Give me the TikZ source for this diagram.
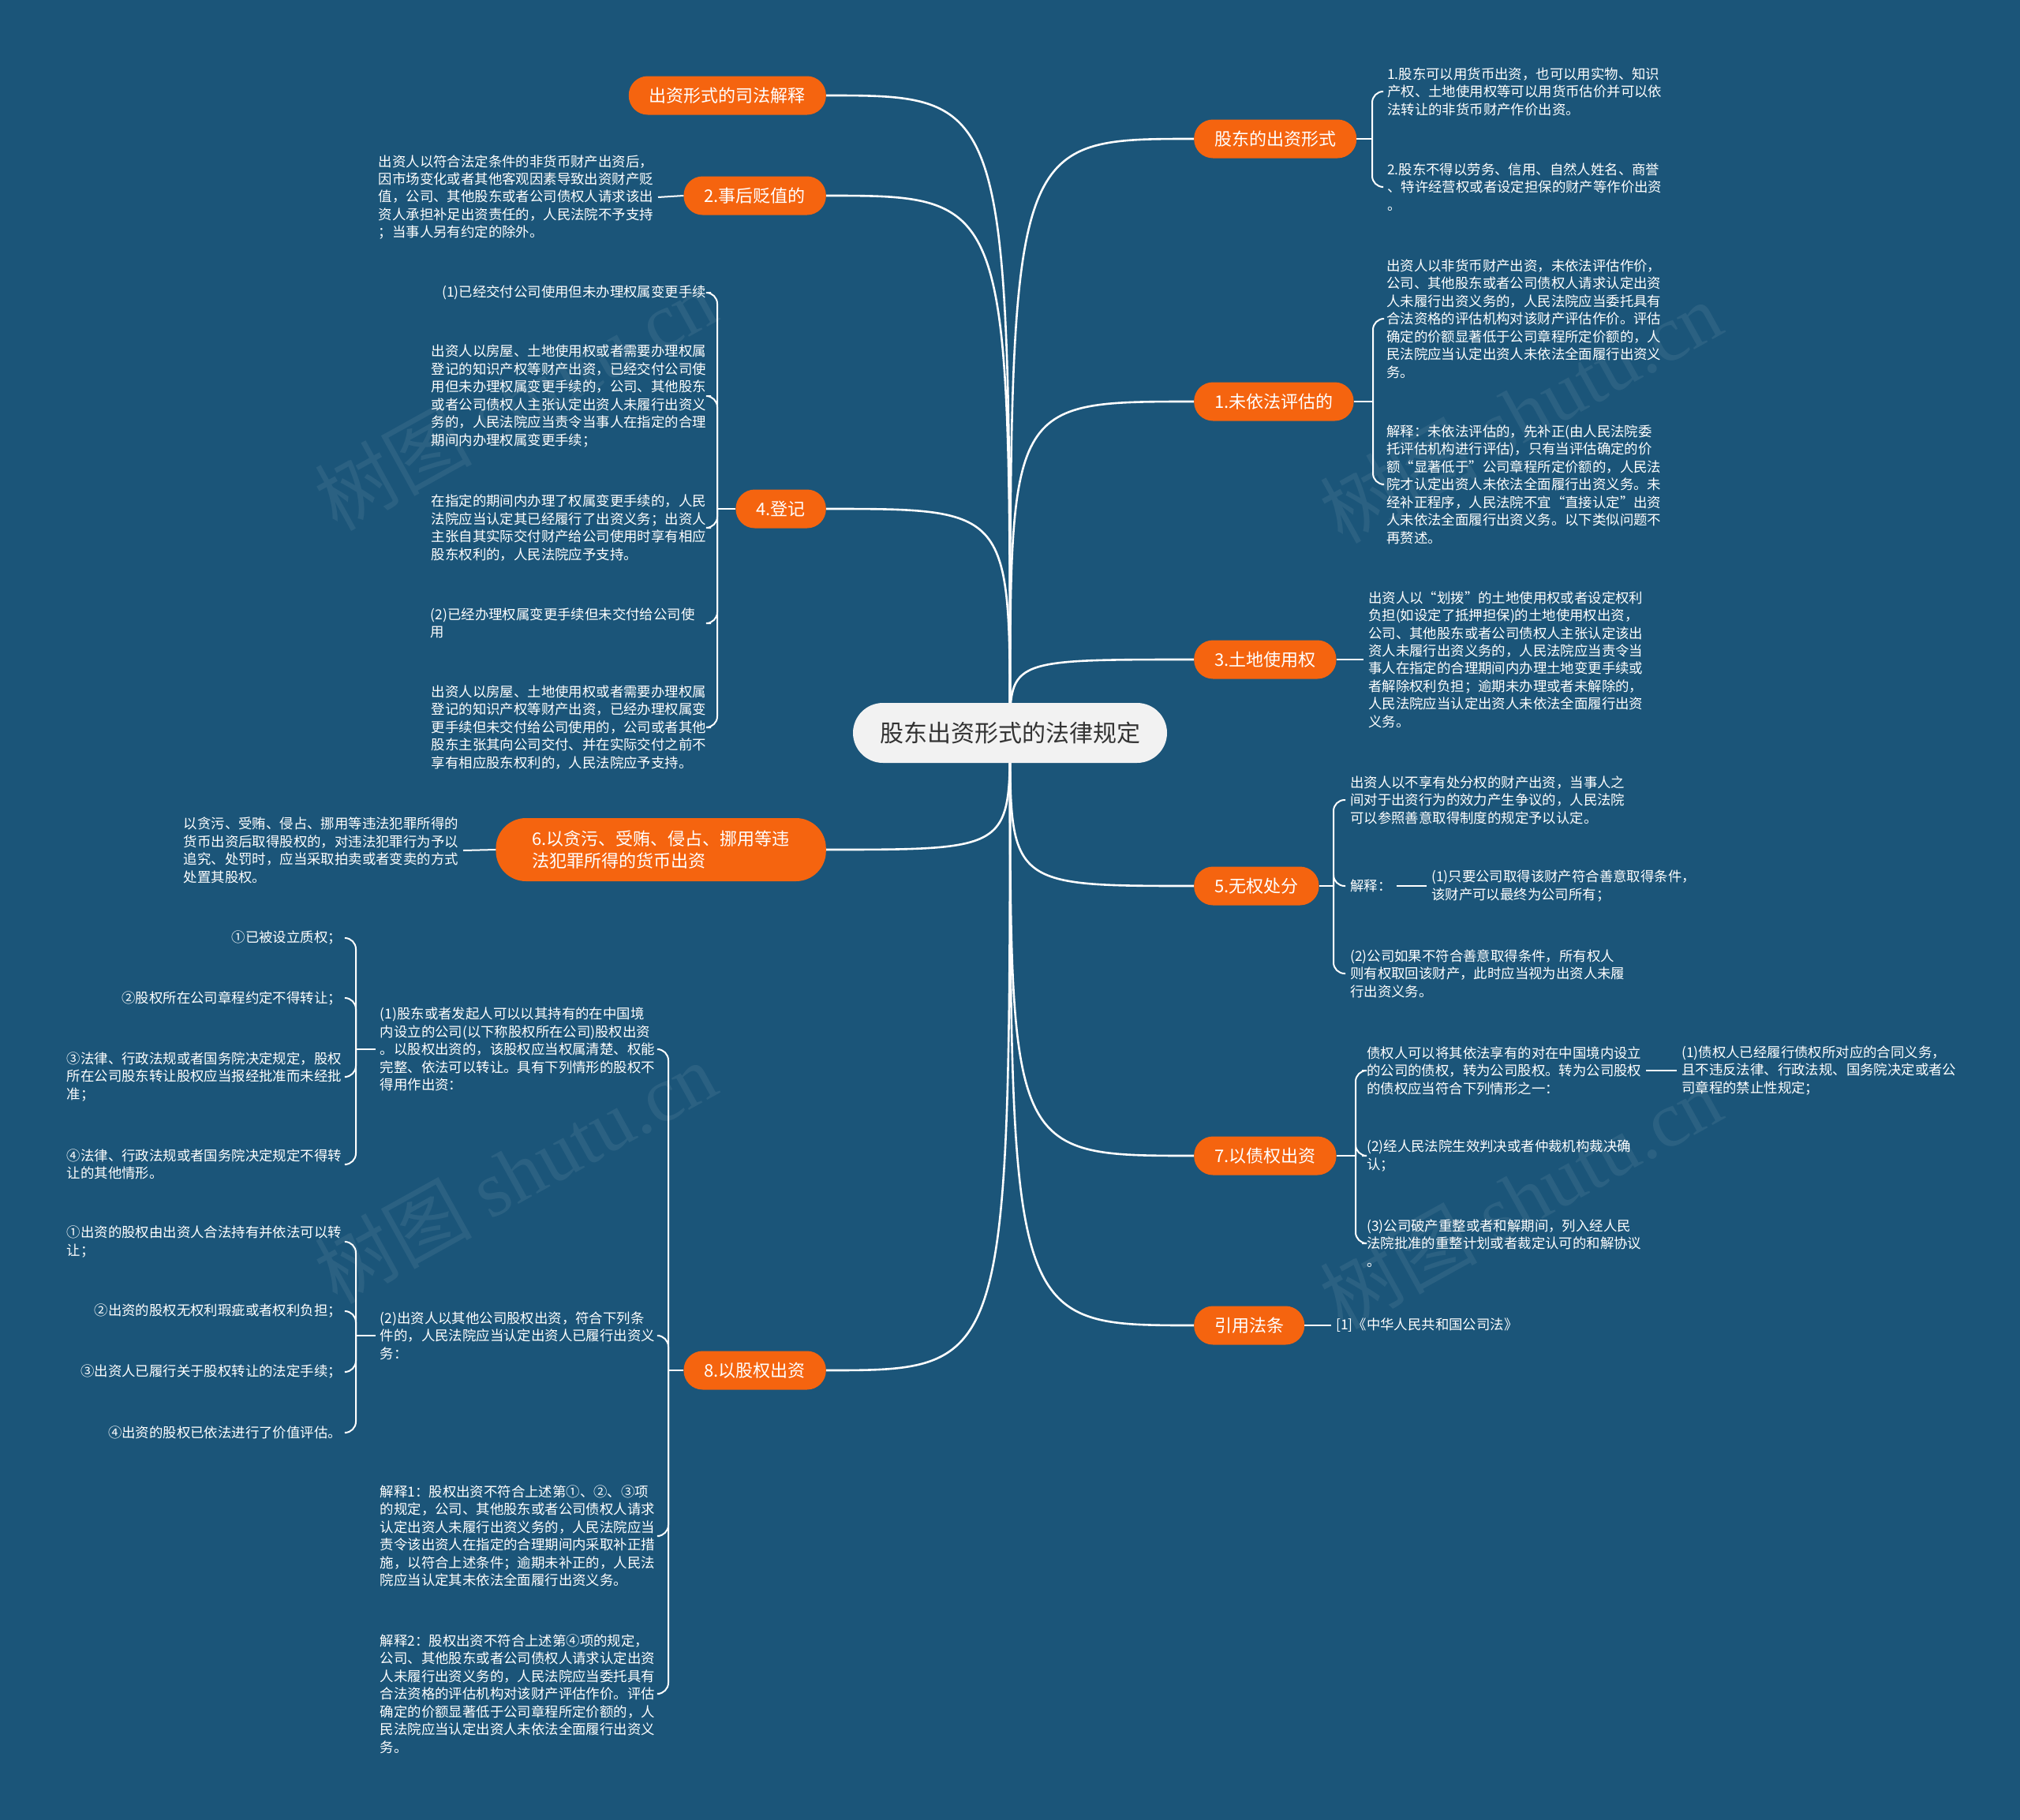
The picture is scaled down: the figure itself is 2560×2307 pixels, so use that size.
\documentclass[tikz,border=0pt]{standalone}
\usepackage{fontspec}
\setmainfont{Noto Sans CJK SC}
\newfontfamily\wmfont{Liberation Serif}
\usetikzlibrary{backgrounds,calc}
\definecolor{bgblue}{HTML}{1B5579}
\definecolor{orng}{HTML}{F5640F}
\definecolor{rootfill}{HTML}{F2F2F2}
\definecolor{roottext}{HTML}{333333}
\tikzset{
  rootnode/.style={rectangle, rounded corners=38pt, fill=rootfill, text=roottext,
    font=\fontsize{30}{36}\selectfont, minimum height=76pt, inner xsep=34pt, inner ysep=0pt},
  topic/.style={rectangle, rounded corners=24pt, fill=orng, text=white,
    font=\fontsize{22}{28}\selectfont, minimum height=49pt, inner xsep=26pt, inner ysep=0pt, align=left},
  topictwo/.style={topic, rounded corners=38pt, minimum height=80pt, inner xsep=46pt},
  leaf/.style={text=white, font=\fontsize{17.4}{22.45}\selectfont, align=left, inner xsep=6pt, inner ysep=2pt},
  mainline/.style={draw=white, line width=2.6pt},
  leafline/.style={draw=white, line width=2pt, rounded corners=14pt},
  wmark/.style={text=white, opacity=0.07, rotate=29, font=\fontsize{100}{100}\selectfont},
}
\begin{document}
\begin{tikzpicture}[x=1pt,y=-1pt]
\useasboundingbox (0,0) rectangle (2560,2307);
\begin{scope}[on background layer]
\fill[bgblue] (0,0) rectangle (2560,2307);
\node[wmark] (wm1) at (653,506) {树图 {\wmfont shutu.cn}};
\node[wmark] (wm2) at (1927,522) {树图 {\wmfont shutu.cn}};
\node[wmark] (wm3) at (653,1486) {树图 {\wmfont shutu.cn}};
\node[wmark] (wm4) at (1927,1518) {树图 {\wmfont shutu.cn}};
\end{scope}

% root
\node[rootnode] (root) at (1280,929) {股东出资形式的法律规定};

% left topics
\node[topic, anchor=east] (t1) at (1047,121) {出资形式的司法解释};
\node[topic, anchor=east] (t2) at (1047,248) {2.事后贬值的};
\node[topic, anchor=east] (t4) at (1047,645) {4.登记};
\node[topictwo, anchor=east] (t6) at (1047,1077) {6.以贪污、受贿、侵占、挪用等违\\法犯罪所得的货币出资};
\node[topic, anchor=east] (t8) at (1047,1737) {8.以股权出资};

% right topics
\node[topic, anchor=west] (r0) at (1513,176) {股东的出资形式};
\node[topic, anchor=west] (r1) at (1513,509) {1.未依法评估的};
\node[topic, anchor=west] (r3) at (1513,836) {3.土地使用权};
\node[topic, anchor=west] (r5) at (1513,1123) {5.无权处分};
\node[topic, anchor=west] (r7) at (1513,1465) {7.以债权出资};
\node[topic, anchor=west] (r9) at (1513,1680) {引用法条};

% ---- left leaves
\node[leaf, anchor=east] (l2a) at (834,250) {出资人以符合法定条件的非货币财产出资后，\\因市场变化或者其他客观因素导致出资财产贬\\值，公司、其他股东或者公司债权人请求该出\\资人承担补足出资责任的，人民法院不予支持\\；当事人另有约定的除外。};

\node[leaf, anchor=east] (l4a) at (901,371) {(1)已经交付公司使用但未办理权属变更手续};
\node[leaf, anchor=east] (l4b) at (901,502) {出资人以房屋、土地使用权或者需要办理权属\\登记的知识产权等财产出资，已经交付公司使\\用但未办理权属变更手续的，公司、其他股东\\或者公司债权人主张认定出资人未履行出资义\\务的，人民法院应当责令当事人在指定的合理\\期间内办理权属变更手续；};
\node[leaf, anchor=east] (l4c) at (901,669) {在指定的期间内办理了权属变更手续的，人民\\法院应当认定其已经履行了出资义务；出资人\\主张自其实际交付财产给公司使用时享有相应\\股东权利的，人民法院应予支持。};
\node[leaf, anchor=east, text width=349pt] (l4d) at (901,790) {(2)已经办理权属变更手续但未交付给公司使\\用};
\node[leaf, anchor=east] (l4e) at (901,922) {出资人以房屋、土地使用权或者需要办理权属\\登记的知识产权等财产出资，已经办理权属变\\更手续但未交付给公司使用的，公司或者其他\\股东主张其向公司交付、并在实际交付之前不\\享有相应股东权利的，人民法院应予支持。};

\node[leaf, anchor=east] (l6a) at (587,1078) {以贪污、受贿、侵占、挪用等违法犯罪所得的\\货币出资后取得股权的，对违法犯罪行为予以\\追究、处罚时，应当采取拍卖或者变卖的方式\\处置其股权。};

\node[leaf, anchor=east] (l8a) at (836,1330) {(1)股东或者发起人可以以其持有的在中国境\\内设立的公司(以下称股权所在公司)股权出资\\。以股权出资的，该股权应当权属清楚、权能\\完整、依法可以转让。具有下列情形的股权不\\得用作出资：};
\node[leaf, anchor=east] (l8b) at (836,1693) {(2)出资人以其他公司股权出资，符合下列条\\件的，人民法院应当认定出资人已履行出资义\\务：};
\node[leaf, anchor=east] (l8c) at (836,1947) {解释1：股权出资不符合上述第①、②、③项\\的规定，公司、其他股东或者公司债权人请求\\认定出资人未履行出资义务的，人民法院应当\\责令该出资人在指定的合理期间内采取补正措\\施，以符合上述条件；逾期未补正的，人民法\\院应当认定其未依法全面履行出资义务。};
\node[leaf, anchor=east] (l8d) at (836,2147) {解释2：股权出资不符合上述第④项的规定，\\公司、其他股东或者公司债权人请求认定出资\\人未履行出资义务的，人民法院应当委托具有\\合法资格的评估机构对该财产评估作价。评估\\确定的价额显著低于公司章程所定价额的，人\\民法院应当认定出资人未依法全面履行出资义\\务。};

\node[leaf, anchor=east] (l8a1) at (439,1189) {①已被设立质权；};
\node[leaf, anchor=east] (l8a2) at (439,1265) {②股权所在公司章程约定不得转让；};
\node[leaf, anchor=east] (l8a3) at (439,1365) {③法律、行政法规或者国务院决定规定，股权\\所在公司股东转让股权应当报经批准而未经批\\准；};
\node[leaf, anchor=east] (l8a4) at (439,1476) {④法律、行政法规或者国务院决定规定不得转\\让的其他情形。};

\node[leaf, anchor=east] (l8b1) at (439,1574) {①出资的股权由出资人合法持有并依法可以转\\让；};
\node[leaf, anchor=east] (l8b2) at (439,1662) {②出资的股权无权利瑕疵或者权利负担；};
\node[leaf, anchor=east] (l8b3) at (439,1739) {③出资人已履行关于股权转让的法定手续；};
\node[leaf, anchor=east] (l8b4) at (439,1816) {④出资的股权已依法进行了价值评估。};

% ---- right leaves
\node[leaf, anchor=west] (r0a) at (1752,116) {1.股东可以用货币出资，也可以用实物、知识\\产权、土地使用权等可以用货币估价并可以依\\法转让的非货币财产作价出资。};
\node[leaf, anchor=west] (r0b) at (1752,237) {2.股东不得以劳务、信用、自然人姓名、商誉\\、特许经营权或者设定担保的财产等作价出资\\。};

\node[leaf, anchor=west] (r1a) at (1751,404) {出资人以非货币财产出资，未依法评估作价，\\公司、其他股东或者公司债权人请求认定出资\\人未履行出资义务的，人民法院应当委托具有\\合法资格的评估机构对该财产评估作价。评估\\确定的价额显著低于公司章程所定价额的，人\\民法院应当认定出资人未依法全面履行出资义\\务。};
\node[leaf, anchor=west] (r1b) at (1751,614) {解释：未依法评估的，先补正(由人民法院委\\托评估机构进行评估)，只有当评估确定的价\\额“显著低于”公司章程所定价额的，人民法\\院才认定出资人未依法全面履行出资义务。未\\经补正程序，人民法院不宜“直接认定”出资\\人未依法全面履行出资义务。以下类似问题不\\再赘述。};

\node[leaf, anchor=west] (r3a) at (1728,836) {出资人以“划拨”的土地使用权或者设定权利\\负担(如设定了抵押担保)的土地使用权出资，\\公司、其他股东或者公司债权人主张认定该出\\资人未履行出资义务的，人民法院应当责令当\\事人在指定的合理期间内办理土地变更手续或\\者解除权利负担；逾期未办理或者未解除的，\\人民法院应当认定出资人未依法全面履行出资\\义务。};

\node[leaf, anchor=west] (r5a) at (1705,1014) {出资人以不享有处分权的财产出资，当事人之\\间对于出资行为的效力产生争议的，人民法院\\可以参照善意取得制度的规定予以认定。};
\node[leaf, anchor=west] (r5b) at (1705,1123) {解释：};
\node[leaf, anchor=west] (r5b1) at (1808,1123) {(1)只要公司取得该财产符合善意取得条件，\\该财产可以最终为公司所有；};
\node[leaf, anchor=west] (r5c) at (1705,1234) {(2)公司如果不符合善意取得条件，所有权人\\则有权取回该财产，此时应当视为出资人未履\\行出资义务。};

\node[leaf, anchor=west] (r7a) at (1726,1357) {债权人可以将其依法享有的对在中国境内设立\\的公司的债权，转为公司股权。转为公司股权\\的债权应当符合下列情形之一：};
\node[leaf, anchor=west] (r7a1) at (2125,1357) {(1)债权人已经履行债权所对应的合同义务，\\且不违反法律、行政法规、国务院决定或者公\\司章程的禁止性规定；};
\node[leaf, anchor=west] (r7b) at (1726,1465) {(2)经人民法院生效判决或者仲裁机构裁决确\\认；};
\node[leaf, anchor=west] (r7c) at (1726,1576) {(3)公司破产重整或者和解期间，列入经人民\\法院批准的重整计划或者裁定认可的和解协议\\。};

\node[leaf, anchor=west] (r9a) at (1687,1680) {[1]《中华人民共和国公司法》};

% ---- connectors (behind nodes)
\begin{scope}[on background layer]
\foreach \n in {t1,t2,t4,t6,t8}
  \draw[mainline] (root.center) .. controls (root.center |- \n.east) .. (\n.east);
\foreach \n in {r0,r1,r3,r5,r7,r9}
  \draw[mainline] (root.center) .. controls (root.center |- \n.west) .. (\n.west);
\end{scope}

% left single
\draw[leafline] (t2.west) -- (l2a.east);
\draw[leafline] (t6.west) -- (l6a.east);
% 4.登记 brace
\coordinate (b4) at (909,645);
\draw[leafline] (t4.west) -- (b4);
\foreach \n in {l4a,l4b,l4c,l4d,l4e}
  \draw[leafline] (b4) |- (\n.east);
% 8 brace
\coordinate (b8) at (847,1737);
\draw[leafline] (t8.west) -- (b8);
\foreach \n in {l8a,l8b,l8c,l8d}
  \draw[leafline] (b8) |- (\n.east);
\coordinate (b8a) at (451,1330);
\draw[leafline] (l8a.west) -- (b8a);
\foreach \n in {l8a1,l8a2,l8a3,l8a4}
  \draw[leafline] (b8a) |- (\n.east);
\coordinate (b8b) at (451,1693);
\draw[leafline] (l8b.west) -- (b8b);
\foreach \n in {l8b1,l8b2,l8b3,l8b4}
  \draw[leafline] (b8b) |- (\n.east);

% right braces
\coordinate (c0) at (1739,176);
\draw[leafline] (r0.east) -- (c0);
\foreach \n in {r0a,r0b}
  \draw[leafline] (c0) |- (\n.west);
\coordinate (c1) at (1740,509);
\draw[leafline] (r1.east) -- (c1);
\foreach \n in {r1a,r1b}
  \draw[leafline] (c1) |- (\n.west);
\draw[leafline] (r3.east) -- (r3a.west);
\coordinate (c5) at (1690,1123);
\draw[leafline] (r5.east) -- (c5);
\foreach \n in {r5a,r5b,r5c}
  \draw[leafline] (c5) |- (\n.west);
\draw[leafline] (r5b.east) -- (r5b1.west);
\coordinate (c7) at (1718,1465);
\draw[leafline] (r7.east) -- (c7);
\foreach \n in {r7a,r7b,r7c}
  \draw[leafline] (c7) |- (\n.west);
\draw[leafline] (r7a.east) -- (r7a1.west);
\draw[leafline] (r9.east) -- (r9a.west);
\end{tikzpicture}
\end{document}
